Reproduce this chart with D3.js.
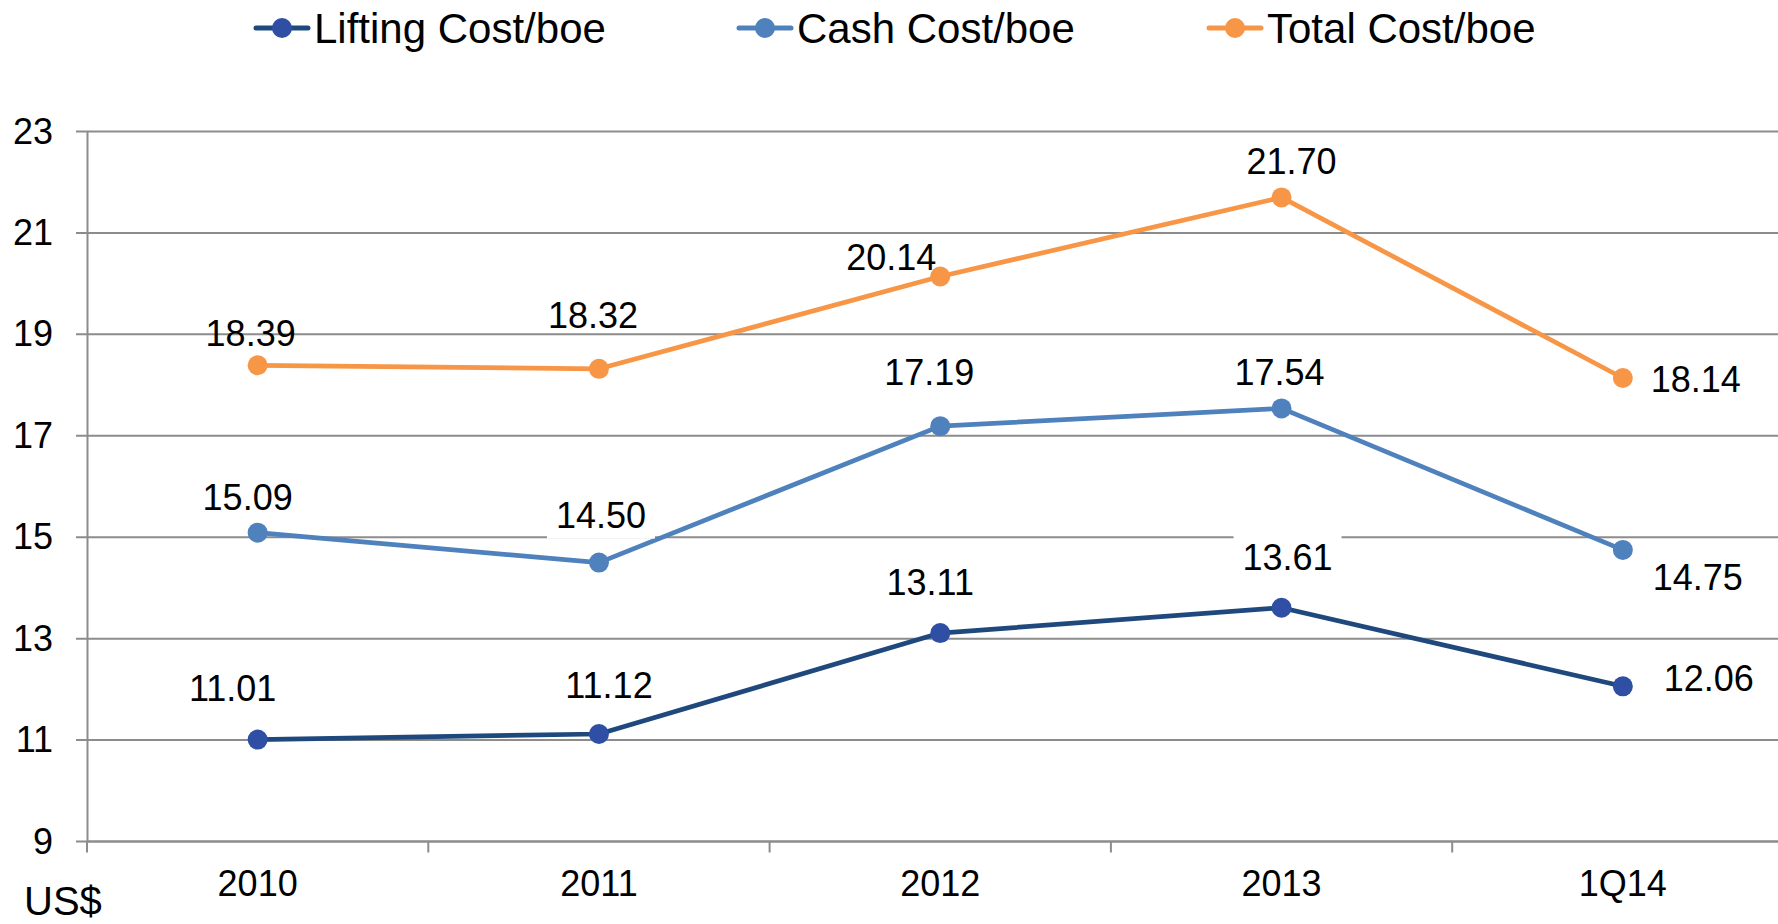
<!DOCTYPE html>
<html>
<head>
<meta charset="utf-8">
<script src="https://cdn.jsdelivr.net/npm/d3@7"></script>
<style>
  body { margin: 0; background: #fff; }
  svg text { font-family: "Liberation Sans", Arial, sans-serif; fill: #000; }
</style>
</head>
<body>
<svg id="chart"></svg>
<script>
// Data
const categories = ['2010', '2011', '2012', '2013', '1Q14']
const liftingCost = [11.01, 11.12, 13.11, 13.61, 12.06]
const cashCost = [15.09, 14.50, 17.19, 17.54, 14.75]
const totalCost = [18.39, 18.32, 20.14, 21.70, 18.14]
const yTicks = [9, 11, 13, 15, 17, 19, 21, 23]
const seriesNames = ['Lifting Cost/boe', 'Cash Cost/boe', 'Total Cost/boe']

// canvas
const canvasWidth = 1778
const canvasHeight = 924
const plotLeft = 87
const plotTop = 131.5
const plotBottom = 841.5

const series = [
    { name: seriesNames[0], values: liftingCost, line: '#1f497d', dot: '#2e4fa3' },
    { name: seriesNames[1], values: cashCost, line: '#4f81bd', dot: '#4f81bd' },
    { name: seriesNames[2], values: totalCost, line: '#f79646', dot: '#f79646' }
]

// label placement (dx, dy from the point, and whether the label has a white box)
const labelLayout = [
    [[-25, -52], [10, -49], [-10, -51], [6, -51, true], [86, -8]],
    [[-10, -36], [2, -48, true], [-11, -54], [-2, -36], [75, 27]],
    [[-7, -32], [-6, -54], [-49, -20], [10, -36], [73, 1]]
]

const svg = d3.select('#chart')
    .attr('width', canvasWidth)
    .attr('height', canvasHeight)

const xScale = d3.scaleBand()
    .domain(categories)
    .range([plotLeft, plotLeft + 5 * 341.3])

const yScale = d3.scaleLinear()
    .domain([9, 23])
    .range([plotBottom, plotTop])

// gridlines
svg.append('g')
    .selectAll('line')
    .data(yTicks)
    .enter()
    .append('line')
    .attr('x1', plotLeft - 11)
    .attr('x2', canvasWidth)
    .attr('y1', d => yScale(d))
    .attr('y2', d => yScale(d))
    .attr('stroke', '#8c8c8c')
    .attr('stroke-width', 2)

// y axis
const yAxis = d3.axisLeft(yScale)
    .tickValues(yTicks)
    .tickSize(0)
    .tickPadding(34)
    .tickFormat(d3.format('d'))

svg.append('g')
    .attr('transform', `translate(${plotLeft}, 0)`)
    .call(yAxis)
    .call(g => g.select('.domain').attr('stroke', '#8c8c8c').attr('stroke-width', 2))
    .selectAll('text')
    .attr('font-size', 36)
    .attr('font-family', '"Liberation Sans", Arial, sans-serif')

// x axis: ticks on band edges, labels in the middle
const xAxisG = svg.append('g')
    .attr('transform', `translate(0, ${plotBottom})`)

xAxisG.append('line')
    .attr('x1', plotLeft)
    .attr('x2', canvasWidth)
    .attr('stroke', '#8c8c8c')
    .attr('stroke-width', 2)

xAxisG.selectAll('.xtick')
    .data(categories)
    .enter()
    .append('line')
    .attr('class', 'xtick')
    .attr('x1', d => xScale(d))
    .attr('x2', d => xScale(d))
    .attr('y1', 0)
    .attr('y2', 11)
    .attr('stroke', '#8c8c8c')
    .attr('stroke-width', 2)

xAxisG.selectAll('.xlabel')
    .data(categories)
    .enter()
    .append('text')
    .attr('class', 'xlabel')
    .attr('x', d => xScale(d) + xScale.bandwidth() / 2)
    .attr('y', 54)
    .attr('text-anchor', 'middle')
    .attr('font-size', 36)
    .text(d => d)

svg.append('text')
    .attr('x', 24)
    .attr('y', 915)
    .attr('font-size', 40)
    .text('US$')

// lines
const line = d3.line()
    .x((d, i) => xScale(categories[i]) + xScale.bandwidth() / 2)
    .y(d => yScale(d))

series.forEach(s => {
    svg.append('path')
        .datum(s.values)
        .attr('d', line)
        .attr('fill', 'none')
        .attr('stroke', s.line)
        .attr('stroke-width', 4.7)
        .attr('stroke-linejoin', 'round')

    svg.append('g')
        .selectAll('circle')
        .data(s.values)
        .enter()
        .append('circle')
        .attr('cx', (d, i) => xScale(categories[i]) + xScale.bandwidth() / 2)
        .attr('cy', d => yScale(d))
        .attr('r', 10)
        .attr('fill', s.dot)
})

// data labels
series.forEach((s, si) => {
    s.values.forEach((v, i) => {
        const [dx, dy, boxed] = labelLayout[si][i]
        const cx = xScale(categories[i]) + xScale.bandwidth() / 2 + dx
        const cy = yScale(v) + dy
        const g = svg.append('g')
        if (boxed) {
            g.append('rect')
                .attr('x', cx - 54)
                .attr('y', cy - 24)
                .attr('width', 108)
                .attr('height', 48)
                .attr('fill', '#fff')
        }
        g.append('text')
            .attr('x', cx)
            .attr('y', cy + 13)
            .attr('text-anchor', 'middle')
            .attr('font-size', 36)
            .text(v.toFixed(2))
    })
})

// legend
const legendX = [256, 739, 1209]
const legend = svg.append('g')
    .selectAll('g')
    .data(series)
    .enter()
    .append('g')
    .attr('transform', (d, i) => `translate(${legendX[i]}, 28)`)

legend.append('line')
    .attr('x1', 0)
    .attr('x2', 52)
    .attr('stroke', d => d.line)
    .attr('stroke-width', 5)
    .attr('stroke-linecap', 'round')

legend.append('circle')
    .attr('cx', 26)
    .attr('r', 10)
    .attr('fill', d => d.dot)

legend.append('text')
    .attr('x', 58)
    .attr('y', 15)
    .attr('font-size', 42)
    .text(d => d.name)
</script>
</body>
</html>
